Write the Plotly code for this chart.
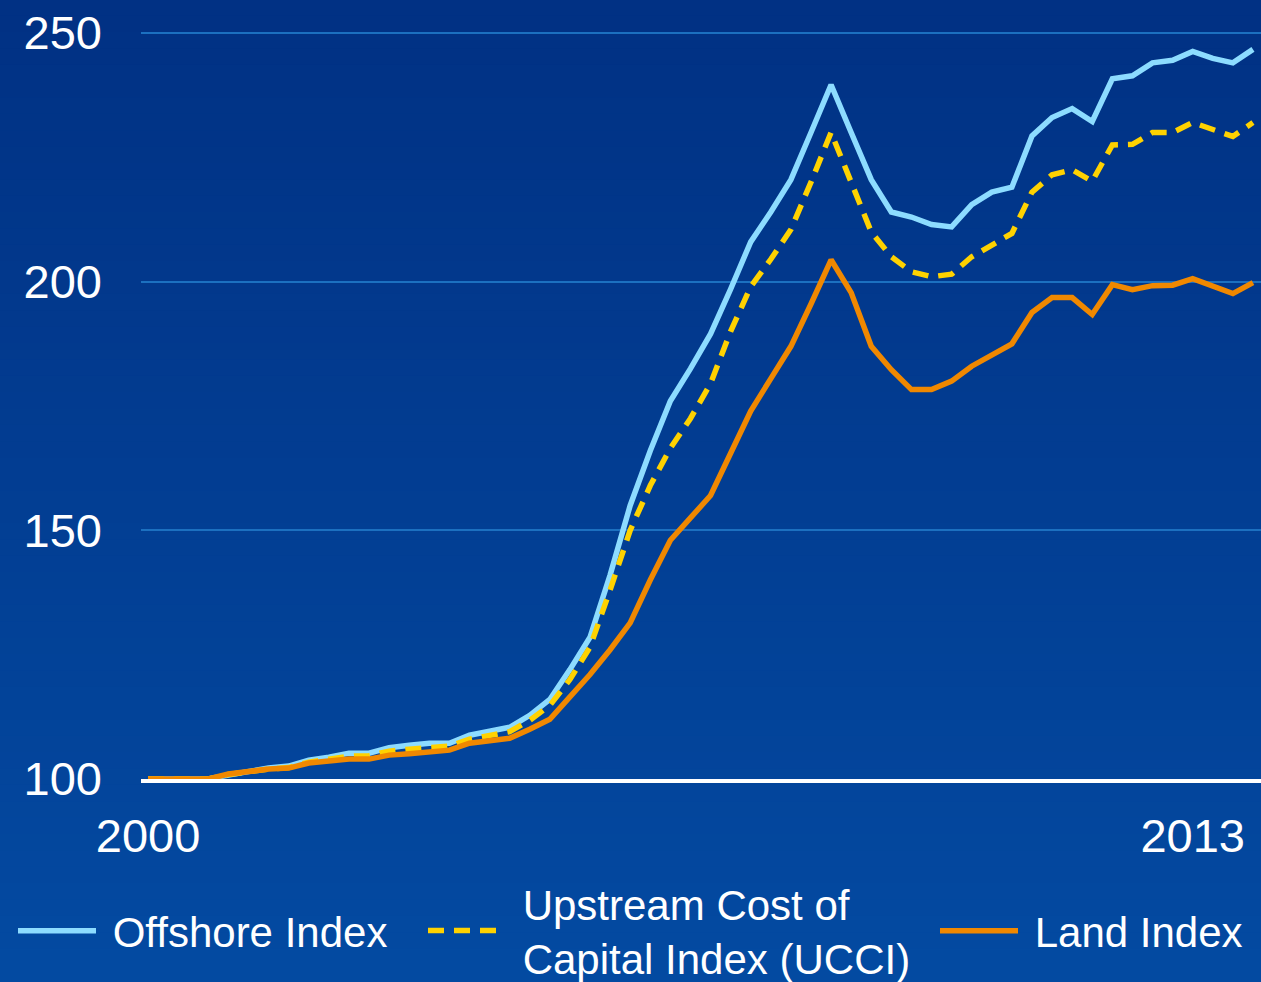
import plotly.graph_objects as go

# Quarterly periods, 2000 Q1 .. 2013 Q4
quarters = [f"{y} Q{q}" for y in range(2000, 2014) for q in range(1, 5)]

offshore_index = [
    100, 100, 100, 100, 100.8, 101.5, 102.2, 102.6, 103.8, 104.4,
    105.2, 105.2, 106.3, 106.8, 107.2, 107.2, 108.8, 109.6, 110.4, 112.8,
    116, 122, 128.5, 141, 155, 166, 176, 182.5, 189.5, 198.5,
    208, 214, 220.5, 230, 239.6, 230, 220.5, 214, 213, 211.5,
    211, 215.5, 218, 219, 229.3, 233, 234.8, 232.2, 240.8, 241.4,
    244, 244.5, 246.3, 244.9, 244, 246.7,
]

ucci_index = [
    100, 100, 100, 100, 100.9, 101.5, 102, 102.3, 103.4, 104,
    104.6, 104.7, 105.6, 106, 106.4, 106.6, 108, 108.8, 109.5, 111.8,
    114.8, 120, 126.5, 138, 150, 159, 166.5, 172.5, 179.5, 190,
    199, 204.5, 210.5, 220, 230, 220, 210, 205, 202, 201,
    201.5, 205, 207.5, 209.7, 218, 221.5, 222.5, 220.2, 227.5, 227.6,
    230, 230, 232, 230.6, 229.2, 232,
]

land_index = [
    100, 100, 100, 100, 101, 101.6, 102, 102.2, 103.2, 103.6,
    104, 104, 104.8, 105.1, 105.4, 105.8, 107.2, 107.7, 108.2, 110,
    112, 116.5, 121, 126, 131.4, 140, 148, 152.5, 157, 165.5,
    174, 180.5, 187, 195.5, 204.4, 197.8, 187, 182.3, 178.3, 178.3,
    180, 183, 185.3, 187.5, 193.8, 196.8, 196.8, 193.4, 199.4, 198.4,
    199.2, 199.3, 200.6, 199, 197.6, 199.8,
]

tick_quarters = ["2000 Q1", "2013 Q1"]
tick_labels = ["2000", "2013"]
y_ticks = [100, 150, 200, 250]

FONT = "Liberation Sans, Arial, sans-serif"
W, H = 1261, 982
M_L, M_R, M_T, M_B = 141, 0, 31, 203
plot_w = W - M_L - M_R
plot_h = H - M_T - M_B

fig = go.Figure()
fig.add_trace(go.Scatter(
    x=quarters, y=offshore_index, mode="lines",
    name="\u00a0Offshore Index",
    line=dict(color="#8ddcff", width=5.5), legend="legend",
))
fig.add_trace(go.Scatter(
    x=quarters, y=ucci_index, mode="lines",
    name="\u00a0Upstream Cost of<br>\u00a0Capital Index (UCCI)",
    line=dict(color="#ffd200", width=5.5, dash="16px,10px"), legend="legend2",
))
fig.add_trace(go.Scatter(
    x=quarters, y=land_index, mode="lines",
    name="\u00a0Land Index",
    line=dict(color="#f08800", width=5.5), legend="legend3",
))

# Vertical blue gradient behind the whole figure
top = (1, 49, 132)
bot = (3, 74, 161)
n_bands = 60
y_top = (H - M_B) / plot_h
y_bot = -(M_B) / plot_h
x_left = -M_L / plot_w
shapes = []
for k in range(n_bands):
    t = k / (n_bands - 1)
    c = tuple(round(top[j] + (bot[j] - top[j]) * t) for j in range(3))
    y1 = y_top - (y_top - y_bot) * k / n_bands
    y0 = y_top - (y_top - y_bot) * (k + 1) / n_bands
    shapes.append(dict(
        type="rect", xref="paper", yref="paper",
        x0=x_left, x1=1.0, y0=y0 - 0.001, y1=y1 + 0.001,
        fillcolor="rgb(%d,%d,%d)" % c, line=dict(width=0), layer="below",
    ))

legend_common = dict(
    orientation="h", yanchor="middle", xanchor="left",
    xref="container", yref="container",
    bgcolor="rgba(0,0,0,0)", borderwidth=0, itemwidth=78,
    font=dict(family=FONT, size=42, color="white"),
)
legend_y = 1 - 931 / H

fig.update_layout(
    width=W, height=H,
    margin=dict(l=M_L, r=M_R, t=M_T, b=M_B, autoexpand=False),
    paper_bgcolor="rgb(2,62,148)",
    plot_bgcolor="rgba(0,0,0,0)",
    shapes=shapes,
    showlegend=True,
    legend=dict(x=13 / W, y=legend_y, **legend_common),
    legend2=dict(x=423 / W, y=legend_y, **legend_common),
    legend3=dict(x=935 / W, y=legend_y, **legend_common),
    xaxis=dict(
        type="category", range=[-0.35, 55.4],
        tickmode="array", tickvals=tick_quarters, ticktext=tick_labels,
        showgrid=False, zeroline=False,
        showline=True, linecolor="white", linewidth=4,
        ticks="", ticklabelstandoff=13,
        tickfont=dict(family=FONT, size=47, color="white"),
    ),
    yaxis=dict(
        range=[100, 250.4], tickmode="array", tickvals=y_ticks,
        showgrid=True, gridcolor="rgb(28,112,192)", gridwidth=1.5,
        zeroline=False, showline=False, ticks="", ticklabelstandoff=38,
        tickfont=dict(family=FONT, size=47, color="white"),
    ),
)

fig.write_html("out.html")
